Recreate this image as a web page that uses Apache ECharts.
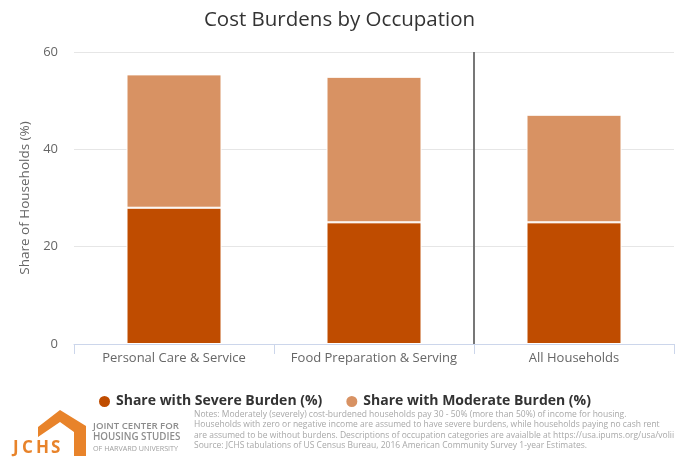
<!DOCTYPE html>
<html>
<head>
<meta charset="utf-8">
<script src="https://cdn.jsdelivr.net/npm/echarts@6/dist/echarts.min.js"></script>
<style>html,body{margin:0;padding:0;background:#fff;}#c{width:679px;height:457px;}</style>
</head>
<body>
<div id="c"></div>
<script>
var categories = ['Personal Care & Service', 'Food Preparation & Serving', 'All Households'];
var severe = [28.0, 25.0, 25.0];
var moderate = [27.4, 29.9, 22.1];
var yTicks = [0, 20, 40, 60];
var noteLines = [
  'Notes: Moderately (severely) cost-burdened households pay 30 - 50% (more than 50%) of income for housing.',
  'Households with zero or negative income are assumed to have severe burdens, while households paying no cash rent',
  'are assumed to be without burdens. Descriptions of occupation categories are avaialble at https://usa.ipums.org/usa/volii',
  'Source: JCHS tabulations of US Census Bureau, 2016 American Community Survey 1-year Estimates.'
];

var chart = echarts.init(document.getElementById('c'));
var font = '"Open Sans", sans-serif';
var graphics = [];
noteLines.forEach(function (t, i) {
  graphics.push({type: 'text', left: 194, top: 410 + i * 10.4,
    style: {text: t, fill: '#a8a8a8', font: '8.5px ' + font}});
});
graphics.push({type: 'polygon',
  shape: {points: [[38, 427], [60, 410], [86, 426], [86, 456], [74, 456], [74, 432], [60, 422], [38, 437]]},
  style: {fill: '#e8832a'}});
var letters = [['J', 13], ['C', 22], ['H', 36], ['S', 51]];
letters.forEach(function (l) {
  graphics.push({type: 'text', left: l[1], top: 440,
    style: {text: l[0], fill: '#e8832a', font: 'bold 17px ' + font}});
});
graphics.push({type: 'text', left: 93, top: 421,
  style: {text: 'JOINT CENTER FOR', fill: '#8d8d8d', font: '600 9.6px ' + font}});
graphics.push({type: 'text', left: 93, top: 432,
  style: {text: 'HOUSING STUDIES', fill: '#8d8d8d', font: '600 9.8px ' + font}});
graphics.push({type: 'text', left: 93, top: 445,
  style: {text: 'OF HARVARD UNIVERSITY', fill: '#a0a0a0', font: '7.2px ' + font}});

chart.setOption({
  backgroundColor: '#fff',
  animation: false,
  title: {text: 'Cost Burdens by Occupation', left: 'center', top: 5,
    textStyle: {fontFamily: font, fontSize: 20.5, fontWeight: 'normal', color: '#333'}},
  grid: {left: 74, right: 5, top: 52, bottom: 113},
  legend: {top: 389, left: 92, icon: 'circle', itemWidth: 13, itemHeight: 13, itemGap: 22,
    textStyle: {fontFamily: font, fontSize: 14, fontWeight: 'bold', color: '#333'},
    data: ['Share with Severe Burden (%)', 'Share with Moderate Burden (%)']},
  xAxis: [{type: 'category', data: categories,
    axisLine: {lineStyle: {color: '#ccd6eb'}},
    axisTick: {show: true, interval: 0, length: 10, lineStyle: {color: '#ccd6eb'}},
    axisLabel: {interval: 0, color: '#666', fontSize: 13, fontFamily: font, margin: 8}},
    {type: 'value', min: 0, max: 3, show: false}],
  yAxis: {type: 'value', min: yTicks[0], max: yTicks[yTicks.length - 1], interval: 20,
    name: 'Share of Households (%)', nameLocation: 'middle', nameGap: 42,
    nameTextStyle: {color: '#666', fontSize: 13.5, fontFamily: font},
    axisLine: {show: false}, axisTick: {show: false},
    axisLabel: {color: '#666', fontSize: 13, fontFamily: font, margin: 16},
    splitLine: {lineStyle: {color: '#e6e6e6'}}},
  series: [
    {name: 'Share with Severe Burden (%)', type: 'bar', stack: 's', data: severe, barWidth: 95,
      itemStyle: {color: '#bf4c00', borderColor: '#fff', borderWidth: 1}},
    {name: 'Share with Moderate Burden (%)', type: 'bar', stack: 's', data: moderate, barWidth: 95,
      itemStyle: {color: '#d89263', borderColor: '#fff', borderWidth: 1}},
    {type: 'scatter', xAxisIndex: 1, data: [], silent: true,
      markLine: {symbol: 'none', silent: true, label: {show: false},
        lineStyle: {color: '#777', width: 2, type: 'solid'}, data: [{xAxis: 2}]}}
  ],
  graphic: graphics
});
</script>
</body>
</html>
